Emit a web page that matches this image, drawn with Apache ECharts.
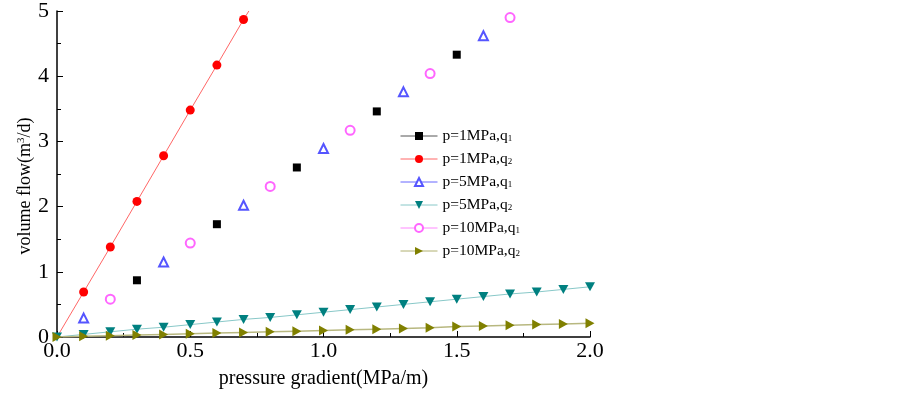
<!DOCTYPE html>
<html>
<head>
<meta charset="utf-8">
<script src="https://cdn.jsdelivr.net/npm/echarts@6/dist/echarts.min.js"></script>
<style>
  html, body { margin: 0; padding: 0; background: #fff; }
  #chart { width: 903px; height: 397px; }
</style>
</head>
<body>
<div id="chart"></div>
<script>
// data
var xA = [0.3, 0.6, 0.9, 1.2, 1.5];                 // p=1MPa,q1
var yA = [0.87, 1.73, 2.60, 3.46, 4.33];
var xB = [0.1, 0.2, 0.3, 0.4, 0.5, 0.6, 0.7];       // p=1MPa,q2
var yB = [0.69, 1.38, 2.08, 2.78, 3.48, 4.17, 4.87];
var xC = [0.1, 0.4, 0.7, 1.0, 1.3, 1.6];            // p=5MPa,q1
var yC = [0.29, 1.15, 2.02, 2.89, 3.76, 4.62];
var xD = [0, 0.1, 0.2, 0.3, 0.4, 0.5, 0.6, 0.7, 0.8, 0.9, 1.0, 1.1, 1.2, 1.3, 1.4, 1.5, 1.6, 1.7, 1.8, 1.9, 2.0];
var yD = [0, 0.04, 0.08, 0.12, 0.15, 0.19, 0.23, 0.27, 0.30, 0.34, 0.38, 0.42, 0.46, 0.50, 0.54, 0.58, 0.62, 0.66, 0.69, 0.73, 0.77];
var xE = [0.2, 0.5, 0.8, 1.1, 1.4, 1.7];            // p=10MPa,q1
var yE = [0.58, 1.44, 2.31, 3.17, 4.04, 4.90];
var yF = [0, 0.01, 0.02, 0.03, 0.04, 0.05, 0.06, 0.07, 0.08, 0.09, 0.10, 0.11, 0.12, 0.13, 0.14, 0.16, 0.17, 0.18, 0.19, 0.20, 0.21];
// fitted line of p=1MPa,q2 runs from origin to the top of the frame
var lineB = [[0, 0], [0.72, 5.0]];

var names = ['p=1MPa,q1', 'p=1MPa,q2', 'p=5MPa,q1', 'p=5MPa,q2', 'p=10MPa,q1', 'p=10MPa,q2'];
var legendLine = ['#555555', '#ff6666', '#6666ff', '#88c8c8', '#ff88ff', '#b0b070'];

function pairs(xs, ys) {
  return xs.map(function (x, i) { return [x, ys[i]]; });
}

var font = 'Liberation Serif, Times New Roman, serif';
var myChart = echarts.init(document.getElementById('chart'));

var dataB = pairs(xB, yB);
dataB.unshift({ value: lineB[0], symbol: 'none' });
dataB.push({ value: lineB[1], symbol: 'none' });

option = {
  animation: false,
  textStyle: { fontFamily: font },
  grid: { left: 57, right: 313, top: 11, bottom: 60 },
  legend: {
    orient: 'vertical',
    left: 395,
    top: 123,
    itemWidth: 37,
    itemHeight: 10,
    itemGap: 7,
    textStyle: {
      fontFamily: font, fontSize: 15.5, color: '#000',
      rich: {
        a: { fontFamily: font, fontSize: 15.5, color: '#000' },
        s: { fontFamily: font, fontSize: 9, color: '#000', padding: [6, 0, 0, 0] }
      }
    },
    formatter: function (n) {
      return '{a|' + n.slice(0, -1) + '}{s|' + n.slice(-1) + '}';
    },
    data: names.map(function (n, i) {
      return { name: n, lineStyle: { width: 1, color: legendLine[i], opacity: 1 } };
    })
  },
  xAxis: {
    type: 'value', min: 0, max: 2, interval: 0.5,
    name: 'pressure gradient(MPa/m)', nameLocation: 'middle', nameGap: 32,
    nameMoveOverlap: false,
    nameTextStyle: { fontFamily: font, fontSize: 20, color: '#000' },
    axisLine: { lineStyle: { color: '#000', width: 1.5 } },
    axisTick: { inside: true, length: 6, lineStyle: { color: '#000' } },
    minorTick: { show: true, splitNumber: 2, length: 4, lineStyle: { color: '#000' } },
    axisLabel: { fontFamily: font, fontSize: 22, color: '#000', margin: 3,
      formatter: function (v) { return v.toFixed(1); } },
    splitLine: { show: false }
  },
  yAxis: {
    type: 'value', min: 0, max: 5, interval: 1,
    name: '{n|volume flow(m}{s|3}{n|/d)}', nameLocation: 'middle', nameGap: 22,
    nameMoveOverlap: false,
    nameTextStyle: {
      fontFamily: font, fontSize: 18, color: '#000', padding: [0, 24, 0, 0],
      rich: {
        n: { fontFamily: font, fontSize: 18, color: '#000' },
        s: { fontFamily: font, fontSize: 11, color: '#000', padding: [0, 0, 8, 0] }
      }
    },
    axisLine: { show: true, lineStyle: { color: '#000', width: 1.5 } },
    axisTick: { show: true, inside: true, length: 6, lineStyle: { color: '#000' } },
    minorTick: { show: true, splitNumber: 2, length: 4, lineStyle: { color: '#000' } },
    axisLabel: { fontFamily: font, fontSize: 22, color: '#000', margin: 8 },
    splitLine: { show: false }
  },
  series: [
    {
      name: names[0], type: 'line', data: pairs(xA, yA),
      symbol: 'rect', symbolSize: 8, color: '#000',
      itemStyle: { color: '#000' },
      lineStyle: { width: 0, opacity: 0 }
    },
    {
      name: names[1], type: 'line', data: dataB,
      symbol: 'circle', symbolSize: 9, color: '#ff0000',
      itemStyle: { color: '#ff0000' },
      lineStyle: { width: 1, color: '#ff6666' }
    },
    {
      name: names[2], type: 'line', data: pairs(xC, yC),
      symbol: 'emptyTriangle', symbolSize: 9, color: '#5555ff',
      itemStyle: { color: '#5555ff', borderWidth: 1 },
      lineStyle: { width: 0, opacity: 0 }
    },
    {
      name: names[3], type: 'line', data: pairs(xD, yD),
      symbol: 'path://M0,0 L10,0 L5,9 Z', symbolSize: [10, 9], color: '#008080',
      itemStyle: { color: '#008080' },
      lineStyle: { width: 1, color: '#88c8c8' }
    },
    {
      name: names[4], type: 'line', data: pairs(xE, yE),
      symbol: 'emptyCircle', symbolSize: 9, color: '#ff66ff',
      itemStyle: { color: '#ff66ff', borderWidth: 1 },
      lineStyle: { width: 0, opacity: 0 }
    },
    {
      name: names[5], type: 'line', data: pairs(xD, yF),
      symbol: 'path://M0,0 L9,5 L0,10 Z', symbolSize: [9, 10], color: '#808000',
      itemStyle: { color: '#808000' },
      lineStyle: { width: 1.5, color: '#b8b880' }
    }
  ]
};

myChart.setOption(option);
</script>
</body>
</html>
